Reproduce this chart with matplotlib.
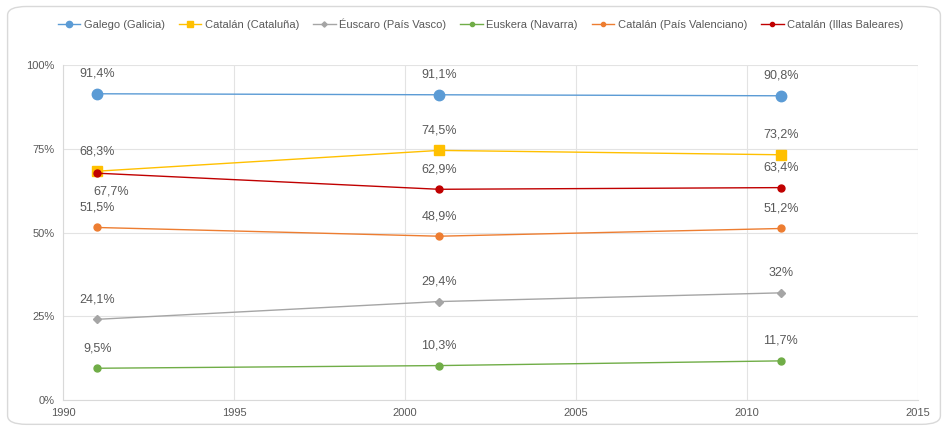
from matplotlib import pyplot as plt
from matplotlib.patches import FancyBboxPatch

plt.rcParams['font.family'] = ['Liberation Sans Narrow', 'Liberation Sans', 'DejaVu Sans']

years = [1991, 2001, 2011]
series_names = ["Galego (Galicia)", "Catalán (Cataluña)", "Éuscaro (País Vasco)",
                "Euskera (Navarra)", "Catalán (País Valenciano)", "Catalán (Illas Baleares)"]
galicia = [91.4, 91.1, 90.8]
cataluna = [68.3, 74.5, 73.2]
pais_vasco = [24.1, 29.4, 32.0]
navarra = [9.5, 10.3, 11.7]
valenciano = [51.5, 48.9, 51.2]
baleares = [67.7, 62.9, 63.4]
x_ticks = [1990, 1995, 2000, 2005, 2010, 2015]
y_ticks = [0, 25, 50, 75, 100]

colors = ["#5B9BD5", "#FFC000", "#A5A5A5", "#70AD47", "#ED7D31", "#C00000"]
markers = ["o", "s", "D", "o", "o", "o"]
msizes = [7.5, 7.5, 4.5, 5, 5, 5]
values = [galicia, cataluna, pais_vasco, navarra, valenciano, baleares]

fig = plt.figure(figsize=(9.48, 4.33), dpi=100)
ax = fig.add_axes([0.0665, 0.076, 0.9015, 0.774])

# marco redondeado del gráfico
fig.patches.append(FancyBboxPatch((0.008, 0.02), 0.984, 0.965, boxstyle="round,pad=0,rounding_size=0.02",
                                  transform=fig.transFigure, fc="white", ec="#D9D9D9", lw=1, zorder=-1))

for name, vals, c, m, ms in zip(series_names, values, colors, markers, msizes):
    ax.plot(years, vals, color=c, marker=m, markersize=ms, lw=1.0, label=name, zorder=3)

    for i, (x, v) in enumerate(zip(years, vals)):
        txt = "{:g}%".format(v).replace(".", ",")
        dy = 10
        va = "bottom"
        if name == "Catalán (Illas Baleares)" and i == 0:
            dy = -9
            va = "top"
        ax.annotate(txt, (x, v), xytext=(0 if dy > 0 else 10, dy), textcoords="offset points",
                    ha="center", va=va, fontsize=9, color="#595959")

ax.set_xlim(1990, 2015)
ax.set_ylim(0, 100)
ax.set_xticks(x_ticks)
ax.set_yticks(y_ticks)
ax.set_yticklabels(["{}%".format(t) for t in y_ticks])
ax.tick_params(length=0, labelsize=8, colors="#595959", pad=6)
ax.grid(color="#E3E3E3", lw=0.8)
ax.set_axisbelow(True)
for s in ["top", "right"]:
    ax.spines[s].set_visible(False)
for s in ["left", "bottom"]:
    ax.spines[s].set_color("#D9D9D9")

fig.legend(loc="center", bbox_to_anchor=(0.507, 0.945), ncol=6, frameon=False, fontsize=8,
           handlelength=2, handletextpad=0.3, columnspacing=1.3, markerscale=0.6,
           labelcolor="#595959")

fig.savefig("out.png", dpi=100)
